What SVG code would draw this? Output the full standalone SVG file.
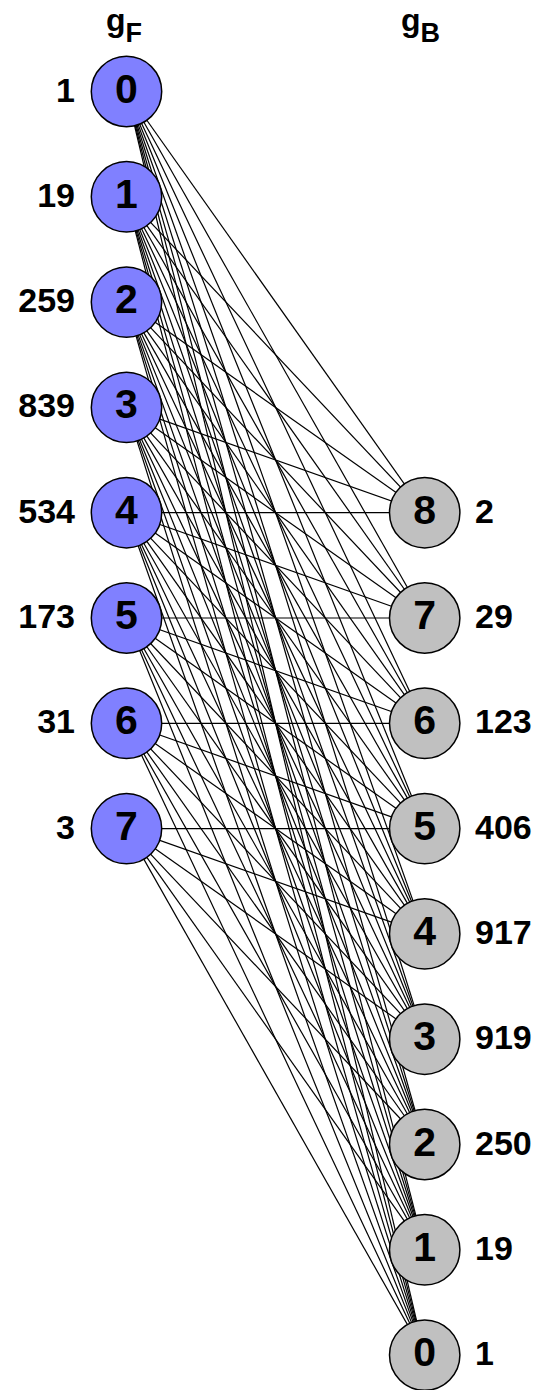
<svg xmlns="http://www.w3.org/2000/svg" width="543" height="1390" viewBox="0 0 543 1390">
<style>
.e{stroke:#000;stroke-width:1.2}
.nf circle{fill:#8080ff;stroke:#000;stroke-width:1.5}
.nb circle{fill:#c0c0c0;stroke:#000;stroke-width:1.5}
.d{font-family:"Liberation Sans",Arial,sans-serif;font-weight:bold;font-size:41px;text-anchor:middle}
.l{font-family:"Liberation Sans",Arial,sans-serif;font-weight:bold;font-size:34px}
.le{text-anchor:end}
.t{font-family:"Liberation Sans",Arial,sans-serif;font-weight:bold;font-size:32px}
.s{font-size:27px}
</style>
<rect width="543" height="1390" fill="#fff"/>
<g id="titles">
<text class="t" x="106" y="31">g<tspan class="s" dy="11">F</tspan></text>
<text class="t" x="401" y="31">g<tspan class="s" dy="11">B</tspan></text>
</g>
<g id="connectors" class="e">
<line x1="126.5" y1="91.5" x2="424.7" y2="1355.1"/><line x1="126.5" y1="91.5" x2="424.7" y2="1249.8"/><line x1="126.5" y1="91.5" x2="424.7" y2="1144.5"/><line x1="126.5" y1="91.5" x2="424.7" y2="1039.2"/><line x1="126.5" y1="91.5" x2="424.7" y2="933.9"/><line x1="126.5" y1="91.5" x2="424.7" y2="828.6"/><line x1="126.5" y1="91.5" x2="424.7" y2="723.3"/><line x1="126.5" y1="91.5" x2="424.7" y2="618"/><line x1="126.5" y1="91.5" x2="424.7" y2="512.7"/>
<line x1="126.5" y1="196.8" x2="424.7" y2="1355.1"/><line x1="126.5" y1="196.8" x2="424.7" y2="1249.8"/><line x1="126.5" y1="196.8" x2="424.7" y2="1144.5"/><line x1="126.5" y1="196.8" x2="424.7" y2="1039.2"/><line x1="126.5" y1="196.8" x2="424.7" y2="933.9"/><line x1="126.5" y1="196.8" x2="424.7" y2="828.6"/><line x1="126.5" y1="196.8" x2="424.7" y2="723.3"/><line x1="126.5" y1="196.8" x2="424.7" y2="618"/><line x1="126.5" y1="196.8" x2="424.7" y2="512.7"/>
<line x1="126.5" y1="302.1" x2="424.7" y2="1355.1"/><line x1="126.5" y1="302.1" x2="424.7" y2="1249.8"/><line x1="126.5" y1="302.1" x2="424.7" y2="1144.5"/><line x1="126.5" y1="302.1" x2="424.7" y2="1039.2"/><line x1="126.5" y1="302.1" x2="424.7" y2="933.9"/><line x1="126.5" y1="302.1" x2="424.7" y2="828.6"/><line x1="126.5" y1="302.1" x2="424.7" y2="723.3"/><line x1="126.5" y1="302.1" x2="424.7" y2="618"/><line x1="126.5" y1="302.1" x2="424.7" y2="512.7"/>
<line x1="126.5" y1="407.4" x2="424.7" y2="1355.1"/><line x1="126.5" y1="407.4" x2="424.7" y2="1249.8"/><line x1="126.5" y1="407.4" x2="424.7" y2="1144.5"/><line x1="126.5" y1="407.4" x2="424.7" y2="1039.2"/><line x1="126.5" y1="407.4" x2="424.7" y2="933.9"/><line x1="126.5" y1="407.4" x2="424.7" y2="828.6"/><line x1="126.5" y1="407.4" x2="424.7" y2="723.3"/><line x1="126.5" y1="407.4" x2="424.7" y2="618"/><line x1="126.5" y1="407.4" x2="424.7" y2="512.7"/>
<line x1="126.5" y1="512.7" x2="424.7" y2="1355.1"/><line x1="126.5" y1="512.7" x2="424.7" y2="1249.8"/><line x1="126.5" y1="512.7" x2="424.7" y2="1144.5"/><line x1="126.5" y1="512.7" x2="424.7" y2="1039.2"/><line x1="126.5" y1="512.7" x2="424.7" y2="933.9"/><line x1="126.5" y1="512.7" x2="424.7" y2="828.6"/><line x1="126.5" y1="512.7" x2="424.7" y2="723.3"/><line x1="126.5" y1="512.7" x2="424.7" y2="618"/><line x1="126.5" y1="512.7" x2="424.7" y2="512.7"/>
<line x1="126.5" y1="618" x2="424.7" y2="1355.1"/><line x1="126.5" y1="618" x2="424.7" y2="1249.8"/><line x1="126.5" y1="618" x2="424.7" y2="1144.5"/><line x1="126.5" y1="618" x2="424.7" y2="1039.2"/><line x1="126.5" y1="618" x2="424.7" y2="933.9"/><line x1="126.5" y1="618" x2="424.7" y2="828.6"/><line x1="126.5" y1="618" x2="424.7" y2="723.3"/><line x1="126.5" y1="618" x2="424.7" y2="618"/>
<line x1="126.5" y1="723.3" x2="424.7" y2="1355.1"/><line x1="126.5" y1="723.3" x2="424.7" y2="1249.8"/><line x1="126.5" y1="723.3" x2="424.7" y2="1144.5"/><line x1="126.5" y1="723.3" x2="424.7" y2="1039.2"/><line x1="126.5" y1="723.3" x2="424.7" y2="933.9"/><line x1="126.5" y1="723.3" x2="424.7" y2="828.6"/><line x1="126.5" y1="723.3" x2="424.7" y2="723.3"/>
<line x1="126.5" y1="828.6" x2="424.7" y2="1355.1"/><line x1="126.5" y1="828.6" x2="424.7" y2="1249.8"/><line x1="126.5" y1="828.6" x2="424.7" y2="1144.5"/><line x1="126.5" y1="828.6" x2="424.7" y2="1039.2"/><line x1="126.5" y1="828.6" x2="424.7" y2="933.9"/><line x1="126.5" y1="828.6" x2="424.7" y2="828.6"/>
</g>
<g id="F0" class="nf"><circle cx="126.5" cy="91.5" r="35.2"/><text class="d" x="126.5" y="102.5">0</text><text class="l le" x="75" y="101.5">1</text></g>
<g id="F1" class="nf"><circle cx="126.5" cy="196.8" r="35.2"/><text class="d" x="126.5" y="207.8">1</text><text class="l le" x="75" y="206.8">19</text></g>
<g id="F2" class="nf"><circle cx="126.5" cy="302.1" r="35.2"/><text class="d" x="126.5" y="313.1">2</text><text class="l le" x="75" y="312.1">259</text></g>
<g id="F3" class="nf"><circle cx="126.5" cy="407.4" r="35.2"/><text class="d" x="126.5" y="418.4">3</text><text class="l le" x="75" y="417.4">839</text></g>
<g id="F4" class="nf"><circle cx="126.5" cy="512.7" r="35.2"/><text class="d" x="126.5" y="523.7">4</text><text class="l le" x="75" y="522.7">534</text></g>
<g id="F5" class="nf"><circle cx="126.5" cy="618" r="35.2"/><text class="d" x="126.5" y="629">5</text><text class="l le" x="75" y="628">173</text></g>
<g id="F6" class="nf"><circle cx="126.5" cy="723.3" r="35.2"/><text class="d" x="126.5" y="734.3">6</text><text class="l le" x="75" y="733.3">31</text></g>
<g id="F7" class="nf"><circle cx="126.5" cy="828.6" r="35.2"/><text class="d" x="126.5" y="839.6">7</text><text class="l le" x="75" y="838.6">3</text></g>
<g id="B8" class="nb"><circle cx="424.7" cy="512.7" r="35.2"/><text class="d" x="424.7" y="523.7">8</text><text class="l" x="475" y="522.7">2</text></g>
<g id="B7" class="nb"><circle cx="424.7" cy="618" r="35.2"/><text class="d" x="424.7" y="629">7</text><text class="l" x="475" y="628">29</text></g>
<g id="B6" class="nb"><circle cx="424.7" cy="723.3" r="35.2"/><text class="d" x="424.7" y="734.3">6</text><text class="l" x="475" y="733.3">123</text></g>
<g id="B5" class="nb"><circle cx="424.7" cy="828.6" r="35.2"/><text class="d" x="424.7" y="839.6">5</text><text class="l" x="475" y="838.6">406</text></g>
<g id="B4" class="nb"><circle cx="424.7" cy="933.9" r="35.2"/><text class="d" x="424.7" y="944.9">4</text><text class="l" x="475" y="943.9">917</text></g>
<g id="B3" class="nb"><circle cx="424.7" cy="1039.2" r="35.2"/><text class="d" x="424.7" y="1050.2">3</text><text class="l" x="475" y="1049.2">919</text></g>
<g id="B2" class="nb"><circle cx="424.7" cy="1144.5" r="35.2"/><text class="d" x="424.7" y="1155.5">2</text><text class="l" x="475" y="1154.5">250</text></g>
<g id="B1" class="nb"><circle cx="424.7" cy="1249.8" r="35.2"/><text class="d" x="424.7" y="1260.8">1</text><text class="l" x="475" y="1259.8">19</text></g>
<g id="B0" class="nb"><circle cx="424.7" cy="1355.1" r="35.2"/><text class="d" x="424.7" y="1366.1">0</text><text class="l" x="475" y="1365.1">1</text></g>
</svg>
